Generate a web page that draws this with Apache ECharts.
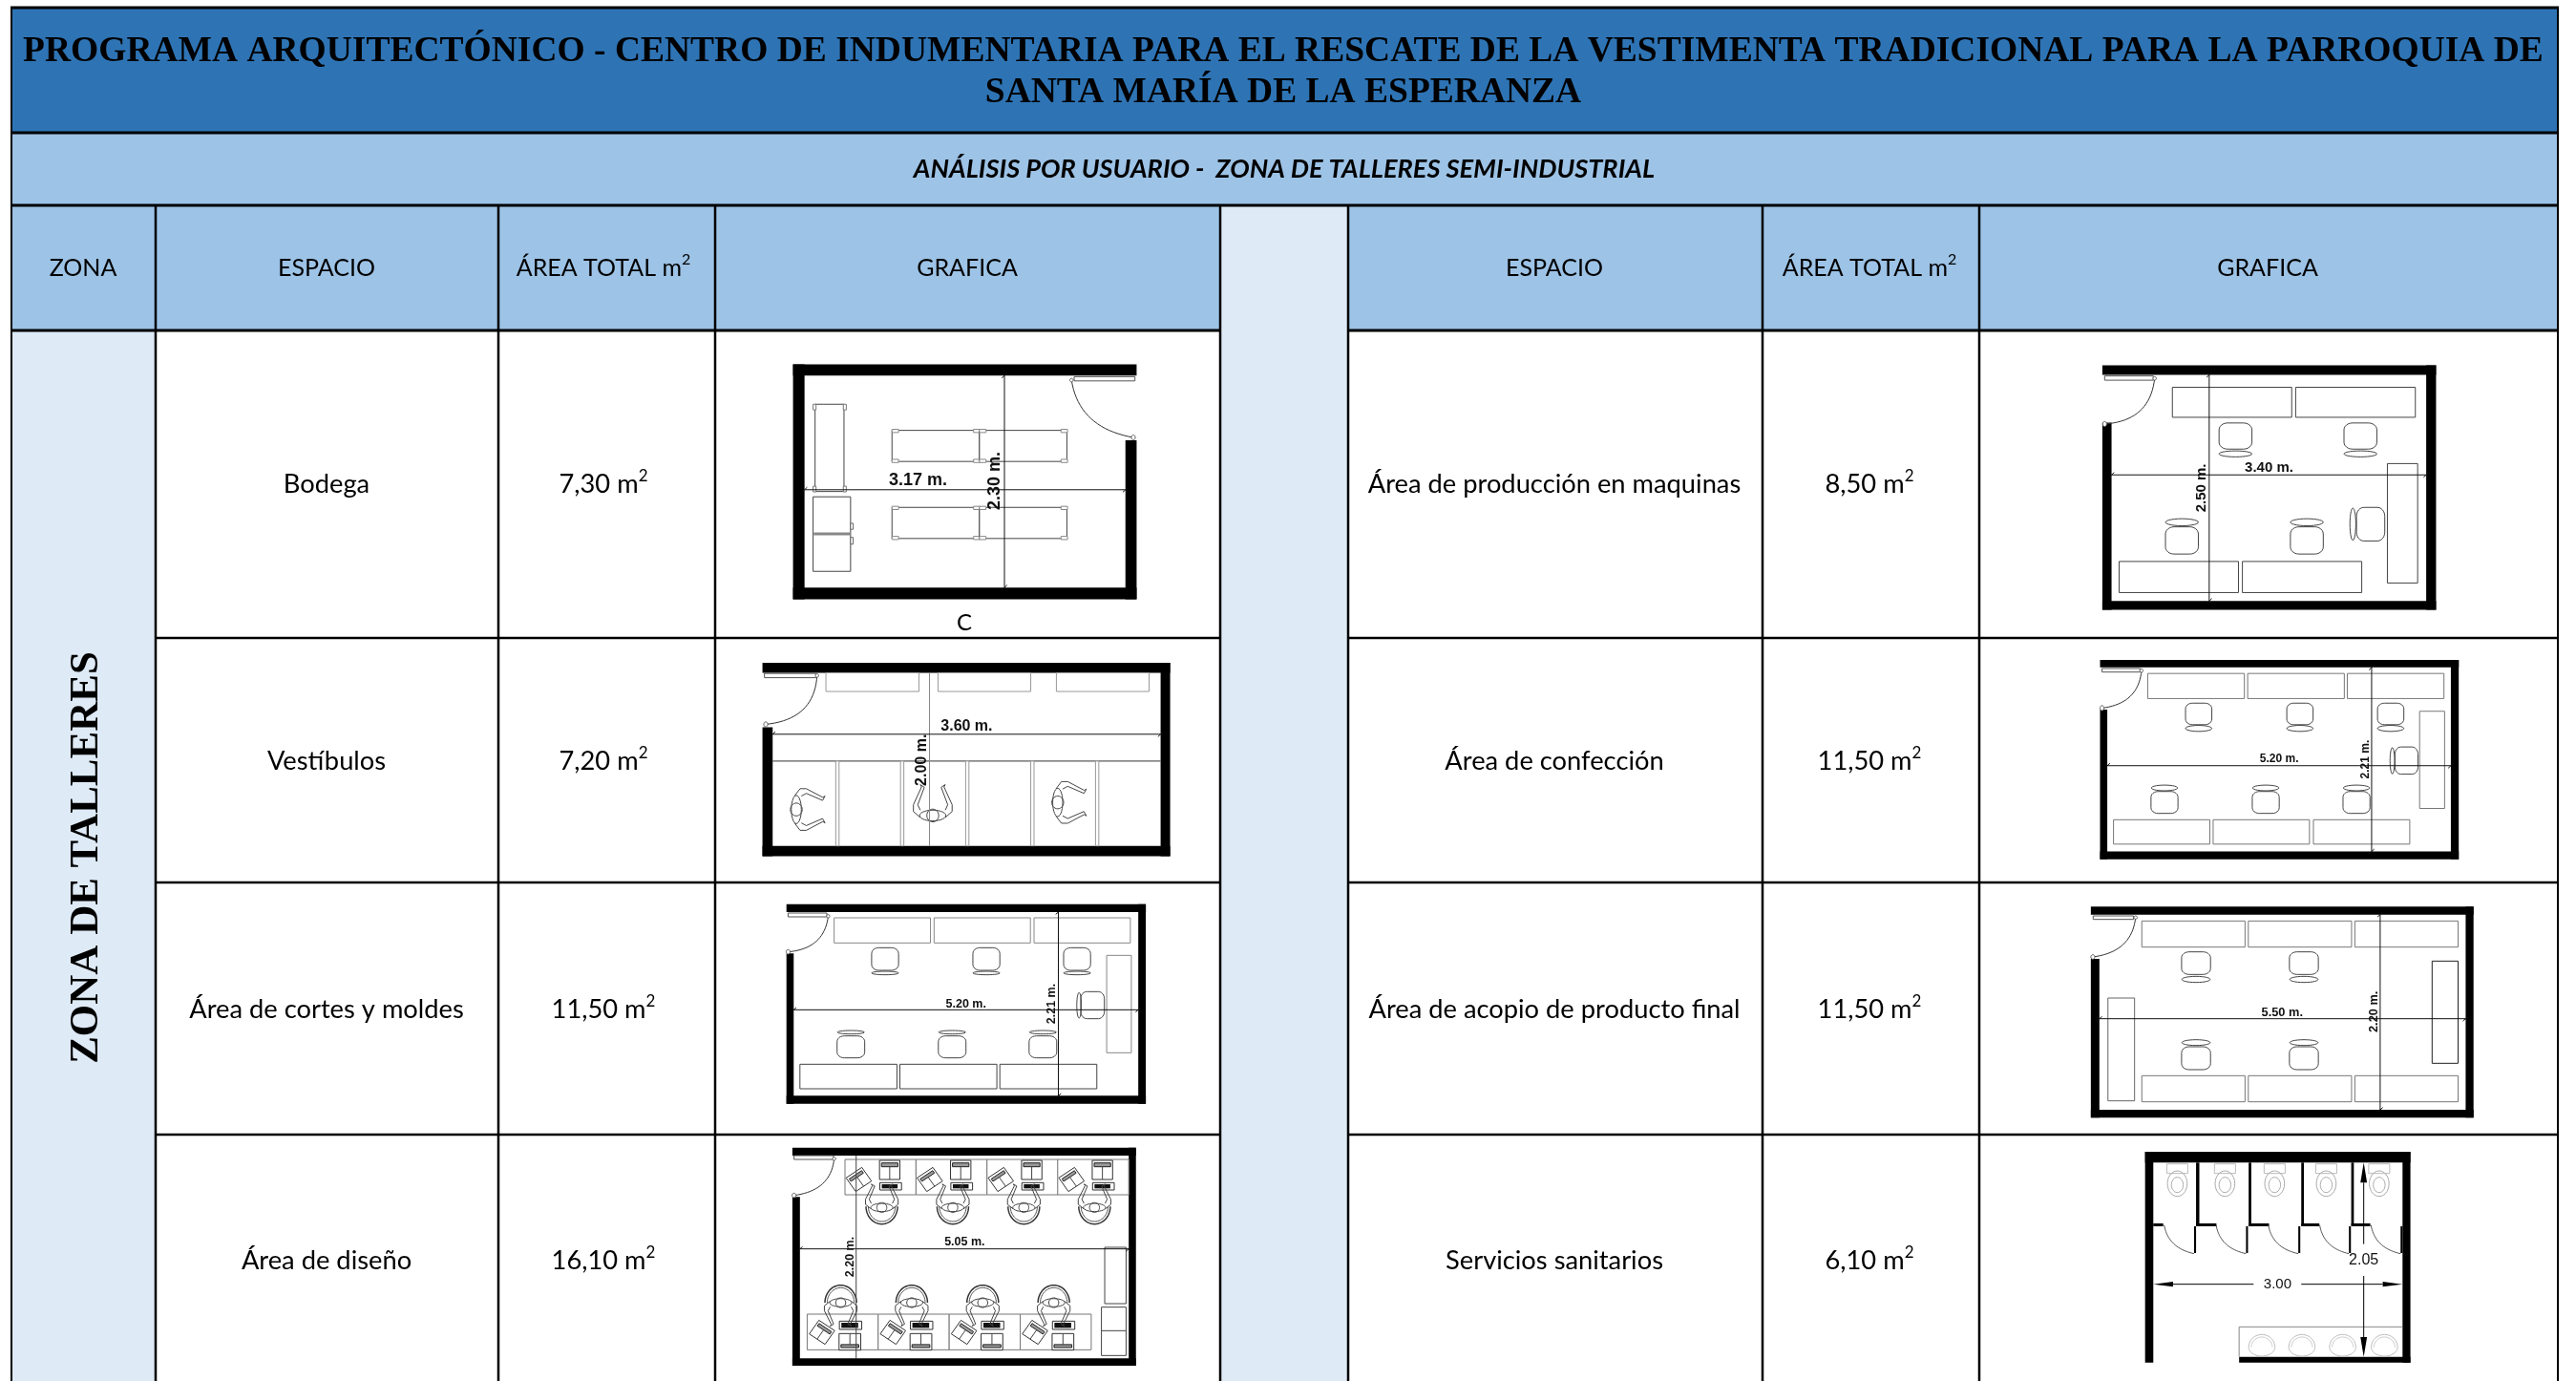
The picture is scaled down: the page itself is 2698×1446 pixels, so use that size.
<!DOCTYPE html>
<html>
<head>
<meta charset="utf-8">
<style>html,body{margin:0;padding:0;background:#fff}#main{width:2698px;height:1446px}</style>
<script src="https://cdn.jsdelivr.net/npm/echarts@6/dist/echarts.min.js"></script>
</head>
<body>
<div id="main"></div>
<script>
// table content
var titleLines = ['PROGRAMA ARQUITECTÓNICO - CENTRO DE INDUMENTARIA PARA EL RESCATE DE LA VESTIMENTA TRADICIONAL PARA LA PARROQUIA DE', 'SANTA MARÍA DE LA ESPERANZA'];
var subTitle = 'ANÁLISIS POR USUARIO -  ZONA DE TALLERES SEMI-INDUSTRIAL';
var zoneName = 'ZONA DE TALLERES';
var leftHeaders = ['ZONA', 'ESPACIO', 'ÁREA TOTAL m', 'GRAFICA'];
var rightHeaders = ['ESPACIO', 'ÁREA TOTAL m', 'GRAFICA'];
var leftSpaces = ['Bodega', 'Vestíbulos', 'Área de cortes y moldes', 'Área de diseño'];
var leftAreas = [7.30, 7.20, 11.50, 16.10];
var rightSpaces = ['Área de producción en maquinas', 'Área de confección', 'Área de acopio de producto final', 'Servicios sanitarios'];
var rightAreas = [8.50, 11.50, 11.50, 6.10];

// layout of the table, in page pixels
var colEdges = [12, 163, 522, 749, 1278, 1412, 1846, 2073, 2679];
var rowEdges = [8, 139, 215, 346, 668, 924, 1188, 1446];
var rowText = [507, 797, 1057, 1320];

var BLUE = '#2e74b5', MID = '#9dc3e6', PALE = '#deeaf6', INK = '#000', THIN = '#444';
var BODY = 'Lato', SERIF = '"Liberation Serif"', PLAN = '"Liberation Sans"';

var prims = [];
var frame = { ox: 0, oy: 0, sx: 1, sy: 1 };

function P(q) { return [frame.ox + q[0] / frame.sx, frame.oy + q[1] / frame.sy]; }
function poly(pts, closed, fill, stroke, lw) {
    prims.push({ pts: pts.map(P), closed: closed, fill: fill || 'none', stroke: stroke || 'none', lw: lw || 1 });
}
function rectPts(x1, y1, x2, y2) { return [[x1, y1], [x2, y1], [x2, y2], [x1, y2]]; }
function wall(x1, y1, x2, y2) { poly(rectPts(x1, y1, x2, y2), true, INK); }
function box(x1, y1, x2, y2, c, lw) { poly(rectPts(x1, y1, x2, y2), true, '#fff', c || THIN, lw || 1); }
function line(x1, y1, x2, y2, c, lw) { poly([[x1, y1], [x2, y2]], false, null, c || THIN, lw || 1); }
function label(x, y, s, size, weight, rot) {
    var q = P([x, y]);
    prims.push({ text: s, x: q[0], y: q[1], font: PLAN, size: size, weight: weight, rot: rot || 0, color: '#111' });
}
function pageText(x, y, s, font, size, weight, style, rot, sup) {
    prims.push({ text: s, x: x, y: y, font: font, size: size, weight: weight, style: style, rot: rot || 0, color: INK, sup: sup });
}
function ellipsePts(cx, cy, rx, ry, from, to, n) {
    var pts = [], a0 = from === undefined ? 0 : from, a1 = to === undefined ? Math.PI * 2 : to, k = n || 28;
    for (var i = 0; i <= k; i++) {
        var a = a0 + (a1 - a0) * i / k;
        pts.push([cx + rx * Math.cos(a), cy + ry * Math.sin(a)]);
    }
    return pts;
}
function ellipse(cx, cy, rx, ry, c, lw, fill) { poly(ellipsePts(cx, cy, rx, ry), true, fill || 'none', c || THIN, lw || 1); }
function curve(x1, y1, cx, cy, x2, y2, c, lw) {
    var pts = [];
    for (var i = 0; i <= 20; i++) {
        var t = i / 20, u = 1 - t;
        pts.push([u * u * x1 + 2 * u * t * cx + t * t * x2, u * u * y1 + 2 * u * t * cy + t * t * y2]);
    }
    poly(pts, false, null, c || THIN, lw || 1);
}
function roundBox(x1, y1, x2, y2, r) {
    var rx = (x2 - x1) * r, ry = (y2 - y1) * r, h = Math.PI / 2, pts = [];
    pts = pts.concat(ellipsePts(x2 - rx, y1 + ry, rx, ry, -h, 0, 6));
    pts = pts.concat(ellipsePts(x2 - rx, y2 - ry, rx, ry, 0, h, 6));
    pts = pts.concat(ellipsePts(x1 + rx, y2 - ry, rx, ry, h, 2 * h, 6));
    pts = pts.concat(ellipsePts(x1 + rx, y1 + ry, rx, ry, 2 * h, 3 * h, 6));
    poly(pts, true, '#fff', THIN, 1);
}
// seat box and the thin backrest box next to it
function chair(sx1, sy1, sx2, sy2, bx1, by1, bx2, by2) {
    roundBox(sx1, sy1, sx2, sy2, 0.26);
    ellipse((bx1 + bx2) / 2, (by1 + by2) / 2, (bx2 - bx1) / 2, (by2 - by1) / 2);
}
function dim(x1, y1, x2, y2) {
    line(x1, y1, x2, y2, '#111', 1);
    line(x1 - 8, y1 + 7, x1 + 8, y1 - 7, '#111', 1);
    line(x2 - 8, y2 + 7, x2 + 8, y2 - 7, '#111', 1);
}
function door(fx1, fy1, fx2, fy2, ax, ay, cx, cy, bx, by) {
    box(fx1, fy1, fx2, fy2, '#555', 1);
    curve(ax, ay, cx, cy, bx, by, '#333', 1);
    ellipse(bx, by, 6, 7, '#555', 1, '#fff');
    ellipse(ax, ay, 5, 5, '#555', 1, '#fff');
}
// person seen from above, facing along the given angle
function person(cx, cy, ang, k) {
    var c = Math.cos(ang), s = Math.sin(ang);
    function T(u, v) { return [cx + (u * c - v * s) * k, cy + (u * s + v * c) * k]; }
    function pl(list) { poly(list.map(function (q) { return T(q[0], q[1]); }), false, null, '#444', 1); }
    pl(ellipsePts(0, 0, 16, 42));
    pl(ellipsePts(0, 0, 19, 19));
    [-1, 1].forEach(function (d) {
        pl([[-6, d * 40], [12, d * 62], [32, d * 62], [85, d * 36], [92, d * 40], [84, d * 27], [32, d * 48], [16, d * 40]]);
    });
}
function gadget(cx, cy, w, h, ang) {
    var c = Math.cos(ang), s = Math.sin(ang);
    function T(u, v) { return [cx + u * c - v * s, cy + u * s + v * c]; }
    poly([T(-w / 2, -h / 2), T(w / 2, -h / 2), T(w / 2, h / 2), T(-w / 2, h / 2)], true, '#fff', '#333', 1);
    poly([T(-w / 2 + 6, -h / 2 + 8), T(w / 2 - 6, -h / 2 + 8), T(w / 2 - 6, -h / 6), T(-w / 2 + 6, -h / 6)], true, '#999', '#222', 1);
    line(T(0, -h / 6)[0], T(0, -h / 6)[1], T(0, h / 2)[0], T(0, h / 2)[1], '#444', 1);
}

function planBodega() {
    wall(205, 85, 1250, 117); wall(205, 85, 240, 750); wall(205, 717, 1250, 750); wall(1216, 300, 1250, 750);
    door(1060, 120, 1245, 132, 1052, 130, 1075, 265, 1240, 292);
    box(272, 198, 360, 445);
    [[266, 198], [358, 198], [266, 430], [358, 430]].forEach(function (q) { box(q[0], q[1], q[0] + 9, q[1] + 16, '#777'); });
    box(266, 460, 380, 671);
    line(268, 565, 378, 565, '#888', 3);
    box(380, 535, 388, 552, '#666'); box(380, 575, 388, 594, '#666');
    [[506, 272], [772, 272], [506, 490], [772, 490]].forEach(function (q) {
        box(q[0], q[1], q[0] + 266, q[1] + 88);
        [[0, -3], [248, -3], [0, 82], [248, 82]].forEach(function (f) { box(q[0] + f[0], q[1] + f[1], q[0] + f[0] + 20, q[1] + f[1] + 9, '#888'); });
    });
    dim(240, 440, 1216, 440);
    dim(848, 117, 848, 717);
    label(585, 413, '3.17 m.', 18, 'bold');
    label(818, 415, '2.30 m.', 18, 'bold', Math.PI / 2);
}
function planVestibulo() {
    wall(112, 930, 1352, 958); wall(112, 1448, 1352, 1477); wall(1323, 930, 1352, 1477); wall(112, 1112, 143, 1477);
    door(118, 960, 275, 972, 278, 966, 270, 1090, 122, 1104);
    box(305, 958, 588, 1011, '#999'); box(646, 958, 928, 1011, '#999'); box(1006, 958, 1288, 1011, '#999');
    line(143, 1208, 1323, 1208, '#333');
    [335, 532, 730, 928, 1125].forEach(function (x) { box(x, 1208, x + 10, 1448, '#999'); });
    person(215, 1345, 0, 0.95);
    person(630, 1362, -Math.PI / 2, 0.95);
    person(1010, 1325, 0, 0.95);
    line(620, 958, 620, 1448, '#888');
    dim(143, 1132, 1323, 1132);
    label(733, 1110, '3.60 m.', 16, 'bold');
    label(597, 1205, '2.00 m.', 16, 'bold', Math.PI / 2);
}
function planCortes() {
    wall(185, 50, 1278, 75); wall(185, 652, 1278, 677); wall(1255, 50, 1278, 677); wall(185, 205, 207, 677);
    door(190, 78, 308, 90, 312, 88, 300, 190, 190, 200);
    [330, 634, 938].forEach(function (x) { box(x, 93, x + 293, 172, '#888'); });
    [226, 530, 834].forEach(function (x) { box(x, 553, x + 295, 630); });
    box(1159, 211, 1234, 517, '#888');
    [485, 793, 1069].forEach(function (c) { chair(c - 41, 187, c + 41, 258, c - 41, 261, c + 41, 272); });
    [381, 689, 965].forEach(function (c) { chair(c - 42, 464, c + 42, 533, c - 41, 447, c + 41, 458); });
    chair(1080, 325, 1152, 410, 1068, 328, 1082, 408);
    dim(207, 382, 1255, 382);
    dim(1012, 75, 1012, 652);
    label(731, 364, '5.20 m.', 12.5, 'bold');
    label(993, 363, '2.21 m.', 12.5, 'bold', Math.PI / 2);
}
function planDiseno() {
    wall(203, 815, 1248, 840); wall(203, 1477, 1248, 1500); wall(1226, 815, 1248, 1500); wall(203, 970, 226, 1500);
    door(208, 840, 328, 852, 330, 850, 320, 950, 208, 965);
    [363, 579, 795, 1010].forEach(function (x) {
        box(x, 852, x + 216, 963, '#777');
        gadget(x + 42, 915, 58, 52, -0.6);
        gadget(x + 136, 885, 62, 60, 0);
        box(x + 106, 925, x + 172, 948, '#333');
        poly(rectPts(x + 112, 930, x + 160, 943), true, '#111');
        person(x + 112, 1003, -Math.PI / 2, 0.8);
        poly(ellipsePts(x + 112, 1000, 48, 55, 0, Math.PI), false, null, '#333', 1.5);
        poly(ellipsePts(x + 112, 1000, 41, 47, 0, Math.PI), false, null, '#555', 1);
    });
    [248, 464, 680, 896].forEach(function (x) {
        box(x, 1338, x + 216, 1450, '#777');
        gadget(x + 45, 1395, 58, 52, 0.6);
        gadget(x + 130, 1425, 66, 52, Math.PI);
        box(x + 98, 1360, x + 166, 1386, '#333');
        poly(rectPts(x + 104, 1365, x + 155, 1381), true, '#111');
        person(x + 102, 1302, Math.PI / 2, 0.8);
        poly(ellipsePts(x + 102, 1302, 48, 55, Math.PI, 2 * Math.PI), false, null, '#333', 1.5);
        poly(ellipsePts(x + 102, 1302, 41, 47, Math.PI, 2 * Math.PI), false, null, '#555', 1);
    });
    box(1153, 1128, 1218, 1305);
    box(1143, 1316, 1218, 1468);
    line(1143, 1390, 1218, 1390);
    dim(226, 1133, 1226, 1133);
    line(397, 840, 397, 1477, '#444');
    label(727, 1113, '5.05 m.', 12.5, 'bold');
    label(378, 1158, '2.20 m.', 12.5, 'bold', Math.PI / 2);
}
function planProduccion() {
    wall(325, 88, 1340, 115); wall(325, 755, 1340, 780); wall(1310, 88, 1340, 780); wall(325, 250, 353, 780);
    door(332, 118, 480, 130, 484, 125, 470, 245, 332, 254);
    box(538, 150, 901, 235); box(913, 150, 1277, 235); box(376, 643, 739, 731); box(751, 643, 1114, 731);
    box(1192, 366, 1284, 704);
    [730, 1110].forEach(function (c) { chair(c - 50, 251, c + 50, 325, c - 50, 330, c + 50, 347); });
    [567, 947].forEach(function (c) { chair(c - 50, 545, c + 50, 622, c - 50, 522, c + 50, 542); });
    chair(1098, 490, 1184, 585, 1078, 492, 1096, 583);
    dim(353, 398, 1310, 398);
    dim(650, 115, 650, 755);
    label(832, 377, '3.40 m.', 15, 'bold');
    label(628, 435, '2.50 m.', 15, 'bold', Math.PI / 2);
}
function planConfeccion() {
    wall(318, 922, 1409, 943); wall(318, 1464, 1409, 1486); wall(1385, 922, 1409, 1486); wall(318, 1062, 340, 1486);
    door(324, 946, 440, 956, 444, 952, 435, 1045, 324, 1058);
    [463, 767, 1070].forEach(function (x) { box(x, 960, x + 294, 1031, '#777'); });
    [359, 662, 967].forEach(function (x) { box(x, 1374, x + 293, 1443, '#777'); });
    box(1290, 1067, 1366, 1342, '#777');
    [618, 926, 1202].forEach(function (c) { chair(c - 40, 1044, c + 40, 1105, c - 40, 1107, c + 40, 1124); });
    [514, 822, 1098].forEach(function (c) { chair(c - 41, 1294, c + 41, 1356, c - 40, 1276, c + 40, 1292); });
    chair(1215, 1168, 1285, 1245, 1200, 1170, 1214, 1244);
    dim(340, 1221, 1385, 1221);
    dim(1144, 943, 1144, 1464);
    label(863, 1203, '5.20 m.', 12, 'bold');
    label(1125, 1203, '2.21 m.', 12, 'bold', Math.PI / 2);
}
function planAcopio() {
    wall(290, 58, 1454, 83); wall(290, 696, 1454, 721); wall(1430, 58, 1454, 721); wall(290, 222, 316, 721);
    door(297, 87, 420, 98, 426, 92, 415, 200, 296, 216);
    [445, 769, 1093].forEach(function (x) {
        box(x, 103, x + 314, 185, '#777');
        box(x, 589, x + 314, 671, '#777');
    });
    box(342, 345, 423, 668, '#666');
    box(1328, 229, 1407, 550, '#222');
    [610, 938].forEach(function (c) {
        chair(c - 44, 200, c + 44, 271, c - 43, 277, c + 43, 296);
        chair(c - 44, 498, c + 44, 570, c - 43, 476, c + 43, 494);
    });
    dim(316, 410, 1430, 410);
    dim(1170, 83, 1170, 696);
    label(872, 390, '5.50 m.', 12.8, 'bold');
    label(1152, 388, '2.20 m.', 12.8, 'bold', Math.PI / 2);
}
function planSanitarios() {
    wall(455, 828, 1262, 862); wall(455, 828, 480, 1490); wall(1238, 828, 1262, 1490); wall(741, 1472, 1262, 1490);
    [[610, 620], [770, 778], [930, 938], [1082, 1090]].forEach(function (q) { wall(q[0], 862, q[1], 1060); });
    [[480, 510], [610, 672], [770, 832], [930, 985], [1082, 1140]].forEach(function (q) { wall(q[0], 1053, q[1], 1062); });
    [[513, 604], [671, 762], [830, 921], [986, 1075], [1142, 1232]].forEach(function (q) {
        curve(q[0], 1058, q[0] + 12, 1130, q[1], 1148, '#555', 1);
        wall(q[1], 1062, q[1] + 6, 1146);
    });
    [553, 698, 849, 1006, 1167].forEach(function (c) {
        box(c - 32, 866, c + 32, 896, '#bbb');
        ellipse(c, 928, 30, 40, '#aaa');
        ellipse(c, 932, 18, 24, '#aaa');
    });
    line(741, 1378, 1238, 1378, '#888');
    line(741, 1378, 741, 1472, '#888');
    [810, 932, 1056, 1183].forEach(function (c) {
        poly(ellipsePts(c, 1442, 40, 40, Math.PI, 2 * Math.PI).concat(ellipsePts(c, 1442, 40, 28, 0, Math.PI)), false, null, '#bbb', 1);
        poly(ellipsePts(c, 1442, 32, 32, Math.PI, 2 * Math.PI), false, null, '#ccc', 1);
    });
    line(1120, 925, 1120, 1118, INK); line(1120, 1218, 1120, 1410, INK);
    poly([[1120, 862], [1130, 925], [1110, 925]], true, INK);
    poly([[1120, 1472], [1130, 1410], [1110, 1410]], true, INK);
    line(540, 1244, 785, 1244, INK); line(930, 1244, 1178, 1244, INK);
    poly([[480, 1244], [540, 1236], [540, 1252]], true, INK);
    poly([[1238, 1244], [1178, 1236], [1178, 1252]], true, INK);
    label(1120, 1168, '2.05', 16, 'normal');
    label(858, 1244, '3.00', 15, 'normal');
}

function cell(x1, y1, x2, y2, c) { poly(rectPts(x1, y1, x2, y2), true, c); }
function hline(y, x1, x2, lw) { poly(rectPts(x1, y - lw / 2, x2, y + lw / 2), true, INK); }
function vline(x, y1, y2, lw) { poly(rectPts(x - lw / 2, y1, x + lw / 2, y2), true, INK); }

// fills
var c = colEdges, r = rowEdges;
cell(c[0], r[0], c[8], r[1], BLUE);
cell(c[0], r[1], c[8], r[2], MID);
cell(c[0], r[2], c[4], r[3], MID);
cell(c[5], r[2], c[8], r[3], MID);
cell(c[4], r[2], c[5], r[7], PALE);
cell(c[0], r[3], c[1], r[7], PALE);

// floor plans, each one in the coordinates of its own sheet
var sheets = [
    { ox: 760, oy: 350, sx: 2.904, sy: 2.703, draw: [planBodega, planVestibulo] },
    { ox: 760, oy: 930, sx: 2.904, sy: 3, draw: [planCortes, planDiseno] },
    { ox: 2090, oy: 350, sx: 2.904, sy: 2.703, draw: [planProduccion, planConfeccion] },
    { ox: 2090, oy: 930, sx: 2.904, sy: 3, draw: [planAcopio, planSanitarios] }
];
sheets.forEach(function (s) {
    frame = s;
    s.draw.forEach(function (fn) { fn(); });
});
frame = { ox: 0, oy: 0, sx: 1, sy: 1 };

// grid lines
hline(r[0], c[0] - 1, c[8] + 1, 3);
hline(r[1], c[0], c[8], 3);
hline(r[2], c[0], c[8], 3);
hline(r[3], c[0], c[4], 3);
hline(r[3], c[5], c[8], 3);
[4, 5, 6].forEach(function (i) {
    hline(r[i], c[1], c[4], 2.5);
    hline(r[i], c[5], c[8], 2.5);
});
vline(c[0], r[0], r[7], 2);
vline(c[8], r[0], r[7], 2);
[1, 2, 3, 4, 5, 6, 7].forEach(function (i) { vline(c[i], r[2], r[7], 2.5); });

// texts
titleLines.forEach(function (s, i) { pageText(1344, 54 + i * 43, s, SERIF, 37.5, 'bold'); });
pageText(1345, 177, subTitle, BODY, 27.2, 'bold', 'italic');
var headY = 281;
[87, 342, 632, 1013].forEach(function (x, i) { pageText(x, headY, leftHeaders[i], BODY, 25, 'normal', null, 0, i === 2); });
[1628, 1958, 2375].forEach(function (x, i) { pageText(x, headY, rightHeaders[i], BODY, 25, 'normal', null, 0, i === 1); });
pageText(91, 898, zoneName, SERIF, 43, 'bold', 'normal', Math.PI / 2);
pageText(1010, 652, 'C', BODY, 24, 'normal');
function area(v) { return v.toFixed(2).replace('.', ',') + ' m'; }
rowText.forEach(function (y, i) {
    pageText(342, y, leftSpaces[i], BODY, 27.3, 'normal');
    pageText(632, y, area(leftAreas[i]), BODY, 27.3, 'normal', null, 0, true);
    pageText(1628, y, rightSpaces[i], BODY, 27.3, 'normal');
    pageText(1958, y, area(rightAreas[i]), BODY, 27.3, 'normal', null, 0, true);
});

function renderPrim(params, api) {
    var p = prims[params.dataIndex];
    if (p.text) {
        var q = api.coord([p.x, p.y]);
        var font = (p.style || 'normal') + ' ' + (p.weight || 'normal') + ' ' + p.size + 'px ' + p.font;
        var style = {
            text: p.text,
            fill: p.color,
            font: font,
            align: 'center',
            verticalAlign: 'middle'
        };
        if (p.sup) {
            // the small 2 of m2 sits at the top of the line
            style.text = '{a|' + p.text + '}{s|2}';
            style.rich = {
                a: { font: font, lineHeight: 34, fill: p.color },
                s: { font: 'normal normal ' + Math.round(p.size * 0.62) + 'px ' + p.font, verticalAlign: 'top', lineHeight: 20, fill: p.color }
            };
        }
        return { type: 'text', x: q[0], y: q[1], rotation: p.rot, style: style };
    }
    return {
        type: p.closed ? 'polygon' : 'polyline',
        shape: { points: p.pts.map(function (a) { return api.coord(a); }) },
        style: { fill: p.fill, stroke: p.stroke, lineWidth: p.lw }
    };
}

var myChart = echarts.init(document.getElementById('main'), null, { renderer: 'canvas' });
myChart.setOption({
    backgroundColor: '#fff',
    animation: false,
    grid: { left: 0, right: 0, top: 0, bottom: 0 },
    xAxis: { type: 'value', min: 0, max: 2698, show: false },
    yAxis: { type: 'value', min: 0, max: 1446, inverse: true, show: false },
    series: [{
        type: 'custom',
        coordinateSystem: 'cartesian2d',
        silent: true,
        clip: false,
        progressive: 0,
        renderItem: renderPrim,
        data: prims.map(function (p, i) { return [i, 0]; })
    }]
});
</script>
</body>
</html>
